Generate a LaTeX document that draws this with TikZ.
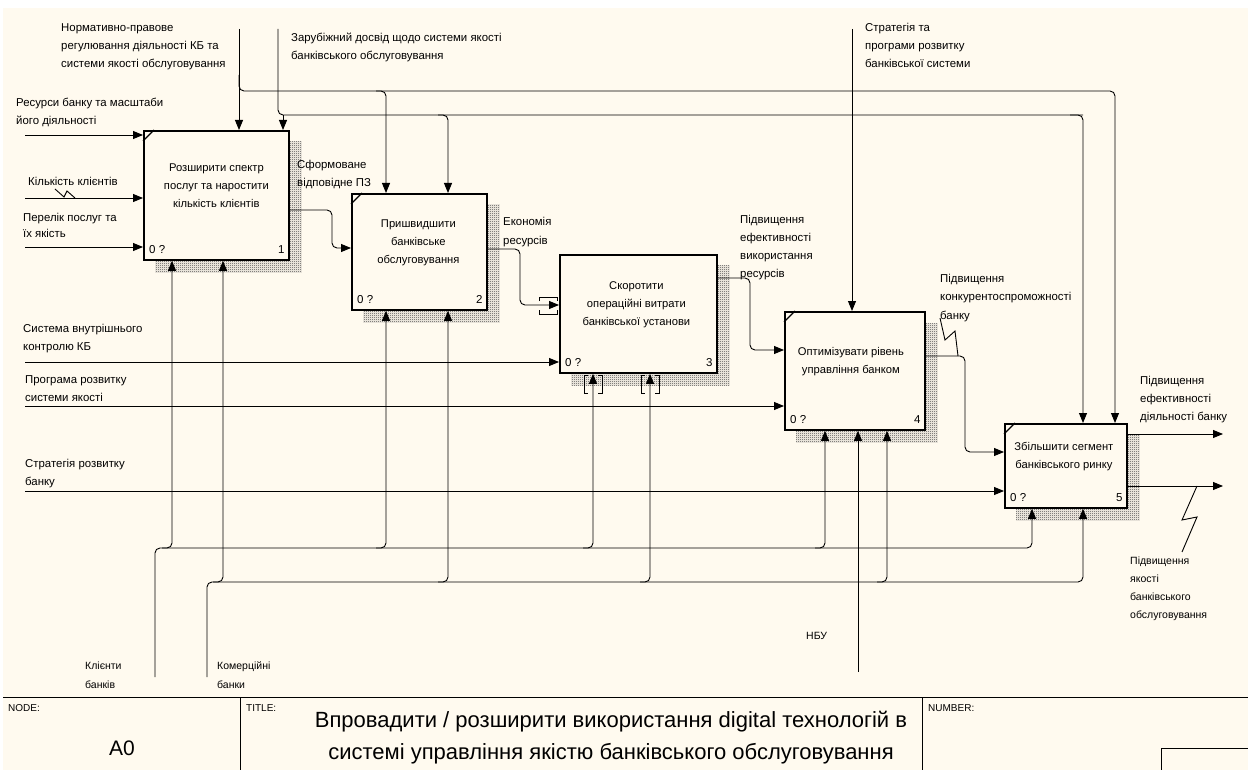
\documentclass[tikz,border=0pt]{standalone}
\usepackage{fontspec}
\setmainfont{Liberation Sans}
\usetikzlibrary{arrows.meta,calc,patterns}
\definecolor{bgc}{RGB}{255,250,239}
\pgfdeclarepatternformonly{finecheck}{\pgfpointorigin}{\pgfpoint{2pt}{2pt}}{\pgfpoint{2pt}{2pt}}{%
  \pgfpathrectangle{\pgfpointorigin}{\pgfpoint{1pt}{1pt}}%
  \pgfpathrectangle{\pgfpoint{1pt}{1pt}}{\pgfpoint{1pt}{1pt}}%
  \pgfusepath{fill}}
\pgfdeclarelayer{back}
\pgfdeclarelayer{shade}
\pgfsetlayers{back,shade,main}
\begin{document}
\begin{tikzpicture}[x=1pt,y=-1pt,
  box/.style={draw, line width=1.8pt, fill=bgc, anchor=north west, inner sep=0pt},
  shd/.style={pattern=finecheck, pattern color=black!75},
  arr/.style={line width=0.9pt, -{Triangle[length=10pt,width=8pt]}},
  ln/.style={line width=0.9pt},
  rc/.style={rounded corners=5pt},
  lbl/.style={anchor=base west, inner sep=0pt, align=left, font=\fontsize{11.4}{18}\selectfont},
  btxt/.style={inner sep=0pt, align=center, font=\fontsize{11.2}{18}\selectfont},
  num/.style={inner sep=0pt, font=\fontsize{11.5}{13}\selectfont},
  tick/.style={line width=1.3pt},
  small/.style={anchor=base west, inner sep=0pt, font=\fontsize{10}{10}\selectfont},
]
\useasboundingbox (0,0) rectangle (1248,770);
\begin{pgfonlayer}{back}
\fill[white] (0,0) rectangle (1248,770);
\fill[bgc] (3,8) rectangle (1248,770);
\end{pgfonlayer}

% boxes
\node[box, minimum width=145pt, minimum height=129pt] (b1) at (143,130) {};
\node[box, minimum width=135pt, minimum height=116pt] (b2) at (351,193) {};
\node[box, minimum width=157pt, minimum height=118pt] (b3) at (559,254) {};
\node[box, minimum width=140pt, minimum height=118pt] (b4) at (784,311) {};
\node[box, minimum width=122pt, minimum height=84pt] (b5) at (1004,423) {};

\begin{pgfonlayer}{shade}
\foreach \b in {b1,b2,b3,b4,b5}{
  \fill[shd] ($(\b.north west)+(12,12)$) rectangle ($(\b.south east)+(12,12)$);
}
\end{pgfonlayer}

\foreach \b in {b1,b2,b4,b5}{
  \draw[tick] ($(\b.north west)+(0,11)$) -- ($(\b.north west)+(11,0)$);
}

% box texts
\node[btxt] (t1) at ($(b1.center)+(0,-9.5)$) {Розширити спектр\\послуг та наростити\\кількість клієнтів};
\node[btxt] (t2) at ($(b2.center)+(-1,-9.5)$) {Пришвидшити\\банківське\\обслуговування};
\node[btxt] (t3) at ($(b3.center)+(-2,-9.5)$) {Скоротити\\операційні витрати\\банківської установи};
\node[btxt] (t4) at ($(b4.center)+(-4,-9.5)$) {Оптимізувати рівень\\управління банком};
\node[btxt] (t5) at ($(b5.center)+(-2,-9)$) {Збільшити сегмент\\банківського ринку};

\foreach \b/\n in {b1/1,b2/2,b3/3,b4/4,b5/5}{
  \node[num, anchor=base west] (z\n) at ($(\b.south west)+(6,-7)$) {0 ?};
  \node[num, anchor=base east] (k\n) at ($(\b.south east)+(-5,-7)$) {\n};
}

% labels (anchor = baseline of last line)
\node[lbl] (lnorm) at (61,68) {Нормативно-правове\\регулювання діяльності КБ та\\системи якості обслуговування};
\node[lbl] (lfor) at (291,60) {Зарубіжний досвід щодо системи якості\\банківського обслуговування};
\node[lbl] (lstr) at (865,68) {Стратегія та\\програми розвитку\\банківської системи};
\node[lbl] (lres) at (16,125) {Ресурси банку та масштаби\\його діяльності};
\node[lbl] (lkil) at (28,186) {Кількість клієнтів};
\node[lbl, font=\fontsize{11.4}{17}\selectfont] (lper) at (23,238) {Перелік послуг та\\їх якість};
\node[lbl] (lsf) at (297,187) {Сформоване\\відповідне ПЗ};
\node[lbl] (lek) at (503,244) {Економія\\ресурсів};
\node[lbl, font=\fontsize{11.4}{17.7}\selectfont] (lpe) at (740,277) {Підвищення\\ефективності\\використання\\ресурсів};
\node[lbl] (lsys) at (23,350) {Система внутрішнього\\контролю КБ};
\node[lbl] (lprog) at (25,401) {Програма розвитку\\системи якості};
\node[lbl] (lstrb) at (25,485) {Стратегія розвитку\\банку};
\node[lbl] (lkon) at (940,319) {Підвищення\\конкурентоспроможності\\банку};
\node[lbl] (leff) at (1140,420) {Підвищення\\ефективності\\діяльності банку};
\node[lbl, font=\fontsize{10.5}{18}\selectfont] (lyak) at (1130,618) {Підвищення\\якості\\банківського\\обслуговування};
\node[lbl, font=\fontsize{10.5}{19}\selectfont] (lkl) at (85,688) {Клієнти\\банків};
\node[lbl, font=\fontsize{10.5}{19}\selectfont] (lkom) at (217,688) {Комерційні\\банки};
\node[lbl, font=\fontsize{10.5}{19}\selectfont] (lnbu) at (806,639) {НБУ};

% controls (top)
\coordinate (cn) at (239,29);
\coordinate (cf) at (278,29);
\coordinate (cs) at (852,29);
\draw[arr] (cn) -- (cn |- b1.north);
\draw[arr, rc] (239,75) |- (1115,91) -- (1115,0 |- b5.north);
\draw[arr, rc] (376,91) -| (386,0 |- b2.north);
\draw[ln, rc] (cf) |- (1083,115);
\draw[arr, rc] (1070,115) -| (1083,0 |- b5.north);
\draw[arr] (283,115) -- (283,0 |- b1.north);
\draw[arr, rc] (438,115) -| (448,0 |- b2.north);
\draw[arr] (cs) -- (cs |- b4.north);

% inputs (left)
\coordinate (i1) at (25,135);
\coordinate (i2) at (25,198);
\coordinate (i3) at (25,247);
\coordinate (i4) at (25,362);
\coordinate (i5) at (25,406);
\coordinate (i6) at (25,491);
\draw[arr] (i1) -- (b1.west |- i1);
\draw[arr] (i2) -- (b1.west |- i2);
\draw[arr] (i3) -- (b1.west |- i3);
\draw[arr] (i4) -- (b3.west |- i4);
\draw[arr] (i5) -- (b4.west |- i5);
\draw[arr] (i6) -- (b5.west |- i6);
\draw[ln] (55,189) -- (64,197) -- (67,191) -- (75,198);

% box to box
\draw[arr, rc] (b1.east |- 0,210) -| (332,248) -- (b2.west |- 0,248);
\draw[arr, rc] (b2.east |- 0,249) -| (520,305) -- (b3.west |- 0,305);
\draw[arr, rc] (b3.east |- 0,278) -| (750,350) -- (b4.west |- 0,350);
\draw[arr, rc] (b4.east |- 0,356) -| (965,452) -- (b5.west |- 0,452);
\draw[ln] (940,318) -- (945,340) -- (955,331) -- (958,356);

% outputs
\coordinate (o1) at (1223,434);
\coordinate (o2) at (1223,486);
\draw[arr] (b5.east |- o1) -- (o1);
\draw[arr] (b5.east |- o2) -- (o2);
\draw[ln] (1197,486) -- (1182,520) -- (1197,517) -- (1182,552);

% mechanisms
\coordinate (mk) at (155,677);
\coordinate (mb) at (207,677);
\coordinate (mn) at (858,672);
\draw[arr, rc] (mk) |- (1032,548) -- (1032,0 |- b5.south);
\draw[arr, rc] (162,548) -| (172,0 |- b1.south);
\draw[arr, rc] (376,548) -| (386,0 |- b2.south);
\draw[arr, rc] (583,548) -| (593,0 |- b3.south);
\draw[arr, rc] (815,548) -| (825,0 |- b4.south);
\draw[arr, rc] (mb) |- (1083,582) -- (1083,0 |- b5.south);
\draw[arr, rc] (213,582) -| (223,0 |- b1.south);
\draw[arr, rc] (438,582) -| (448,0 |- b2.south);
\draw[arr, rc] (640,582) -| (650,0 |- b3.south);
\draw[arr, rc] (877,582) -| (887,0 |- b4.south);
\draw[arr] (mn) -- (mn |- b4.south);

% tunnel brackets
\draw[ln] (539,301) -- (539,297) -- (557,297) -- (557,301);
\draw[ln] (539,310) -- (539,314) -- (557,314) -- (557,310);
\draw[ln] (588,375) -- (584,375) -- (584,393) -- (588,393);
\draw[ln] (598,375) -- (602,375) -- (602,393) -- (598,393);
\draw[ln] (645,375) -- (641,375) -- (641,393) -- (645,393);
\draw[ln] (655,375) -- (659,375) -- (659,393) -- (655,393);

% title block
\draw[line width=0.9pt] (3,697) -- (1248,697);
\draw[line width=0.9pt] (240,697) -- (240,770);
\draw[line width=0.9pt] (922,697) -- (922,770);
\draw[line width=0.9pt] (1161,770) |- (1248,748);
\node[small] (tnode) at (8,711) {NODE:};
\node[small] (ttitle) at (246,711) {TITLE:};
\node[small] (tnum) at (928,711) {NUMBER:};
\node[anchor=base, inner sep=0pt, font=\fontsize{21}{21}\selectfont] (ta0) at (122,755) {A0};
\node[anchor=base, inner sep=0pt, align=center, font=\fontsize{22}{32}\selectfont] (tt) at (611,759) {Впровадити / розширити використання digital технологій в\\системі управління якістю банківського обслуговування};
\end{tikzpicture}
\end{document}
